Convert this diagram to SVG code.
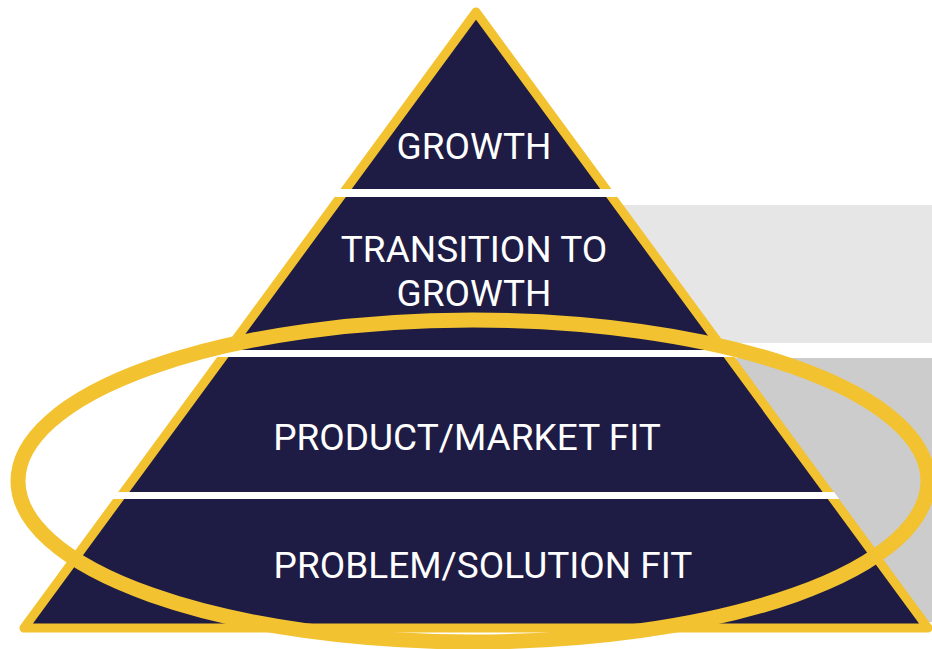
<svg xmlns="http://www.w3.org/2000/svg" width="932" height="649" viewBox="0 0 932 649">
  <style>
    .lbl { font-family: Roboto, "Liberation Sans", Arial, sans-serif; font-size: 37px; fill: #ffffff; text-anchor: middle; }
    .gap { fill: #ffffff; }
  </style>
  <defs>
    <clipPath id="triClip">
      <polygon points="476,3 14,634 938,634"/>
    </clipPath>
  </defs>
  <rect width="932" height="649" fill="#ffffff"/>
  <g id="backdrops">
    <rect x="600" y="205" width="332" height="138" fill="#e6e6e6"/>
    <rect x="700" y="358" width="232" height="264" fill="#cccccc"/>
  </g>
  <g id="pyramid">
    <polygon points="476,12 24,628 928,628" fill="#1e1c44" stroke="#f2c230" stroke-width="9" stroke-linejoin="round"/>
    <g clip-path="url(#triClip)">
      <rect class="gap" x="0" y="189" width="932" height="8"/>
      <rect class="gap" x="0" y="350" width="932" height="7"/>
      <rect class="gap" x="0" y="492" width="932" height="7"/>
    </g>
  </g>
  <g id="growth">
    <text class="lbl" x="474" y="159">GROWTH</text>
  </g>
  <g id="transition">
    <text class="lbl" x="474" y="262">TRANSITION TO</text>
    <text class="lbl" x="474" y="306">GROWTH</text>
  </g>
  <g id="product-market-fit">
    <text class="lbl" x="467" y="450">PRODUCT/MARKET FIT</text>
  </g>
  <g id="problem-solution-fit">
    <text class="lbl" x="483" y="578">PROBLEM/SOLUTION FIT</text>
  </g>
  <g id="highlight">
    <ellipse cx="473" cy="481" rx="455" ry="161" fill="none" stroke="#f2c230" stroke-width="15"/>
  </g>
</svg>
